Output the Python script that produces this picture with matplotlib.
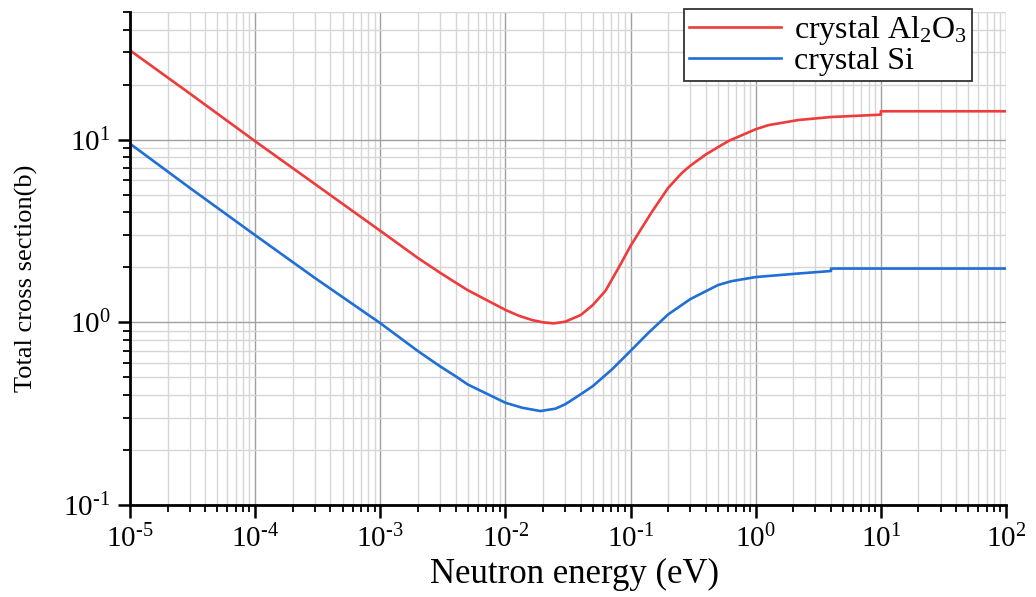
import numpy as np
import matplotlib.pyplot as plt
from matplotlib.ticker import LogLocator, FuncFormatter, NullFormatter

plt.rcParams['font.family'] = ['Liberation Serif', 'DejaVu Serif']
plt.rcParams['mathtext.fontset'] = 'custom'
plt.rcParams['mathtext.rm'] = 'Liberation Serif'
plt.rcParams['mathtext.it'] = 'Liberation Serif:italic'

# values (energy in eV, cross section in barn)
e_al2o3 = np.array([1e-5, 3e-5, 1e-4, 3e-4, 1e-3, 2e-3, 3e-3, 4e-3, 5e-3,
                    1e-2, 0.0128, 0.0163, 0.02, 0.0243, 0.03, 0.04, 0.05,
                    0.0631, 0.0806, 0.1, 0.132, 0.149, 0.2, 0.256, 0.3, 0.4,
                    0.5, 0.61, 1.0, 1.26, 2.18, 4.0, 10.0, 10.0, 100.0])
s_al2o3 = np.array([30.8, 17.9, 9.8, 5.72, 3.17, 2.25, 1.87, 1.65, 1.50,
                    1.17, 1.087, 1.03, 1.0, 0.987, 1.008, 1.097, 1.245,
                    1.49, 2.0, 2.62, 3.55, 4.05, 5.45, 6.55, 7.2, 8.3,
                    9.1, 9.85, 11.4, 12.0, 12.8, 13.3, 13.7, 14.3, 14.3])

e_si = np.array([1e-5, 3e-5, 1e-4, 3e-4, 1e-3, 2e-3, 3e-3, 4e-3, 5e-3,
                 1e-2, 0.0136, 0.019, 0.0251, 0.03, 0.04, 0.05, 0.0713, 0.1,
                 0.14, 0.2, 0.3, 0.5, 0.64, 1.0, 2.18, 4.0, 4.0, 100.0])
s_si = np.array([9.5, 5.45, 3.0, 1.75, 0.99, 0.696, 0.575, 0.507, 0.457,
                 0.363, 0.341, 0.327, 0.337, 0.356, 0.404, 0.448, 0.554, 0.698,
                 0.881, 1.106, 1.34, 1.60, 1.68, 1.77, 1.85, 1.91, 1.97, 1.97])


def pow_label(v, pos):
    p = int(round(np.log10(v)))
    return '$10^{%s}$' % str(p).replace('-', '\u2010')


fig = plt.figure(figsize=(10.36, 5.97), dpi=100)
ax = fig.add_axes([0.1255, 0.154, 0.8455, 0.826])

ax.plot(e_al2o3, s_al2o3, color='#ee3b3b', lw=1.9, label=r'crystal Al$_2$O$_3$')
ax.plot(e_si, s_si, color='#1f6fd6', lw=1.9, label='crystal Si')

ax.set_xscale('log')
ax.set_yscale('log')
ax.set_xlim(1e-5, 1e2)
ax.set_ylim(0.1, 50)

ax.xaxis.set_major_locator(LogLocator(base=10, numticks=20))
ax.xaxis.set_minor_locator(LogLocator(base=10, subs=np.arange(2, 10), numticks=20))
ax.yaxis.set_major_locator(LogLocator(base=10, numticks=20))
ax.yaxis.set_minor_locator(LogLocator(base=10, subs=np.arange(2, 10), numticks=20))
ax.xaxis.set_major_formatter(FuncFormatter(pow_label))
ax.yaxis.set_major_formatter(FuncFormatter(pow_label))
ax.xaxis.set_minor_formatter(NullFormatter())
ax.yaxis.set_minor_formatter(NullFormatter())

ax.grid(which='major', color='#a0a0a0', lw=1.0)
ax.grid(which='minor', color='#d6d6d6', lw=1.0)
ax.set_axisbelow(True)

for s in ['top', 'right']:
    ax.spines[s].set_visible(False)
for s in ['left', 'bottom']:
    ax.spines[s].set_linewidth(2)

ax.tick_params(which='major', direction='out', length=9, width=1.8, labelsize=21, pad=5)
ax.tick_params(which='minor', direction='out', length=5, width=1.3)

ax.set_xlabel('Neutron energy (eV)', fontsize=25)
ax.xaxis.set_label_coords(0.508, -0.107)
ax.set_ylabel('Total cross section(b)', fontsize=19)
ax.yaxis.set_label_coords(-0.105, 0.46)

leg = ax.legend(loc='upper right', fontsize=23, frameon=True, fancybox=False,
                borderpad=0.15, handlelength=2.9, handletextpad=0.4,
                labelspacing=0.0, borderaxespad=0,
                bbox_to_anchor=(972 / 1036, 1 - 9 / 597),
                bbox_transform=fig.transFigure, framealpha=1)
leg.get_frame().set_edgecolor('#333333')
leg.get_frame().set_linewidth(1.3)

fig.savefig('out.png', dpi=100)
